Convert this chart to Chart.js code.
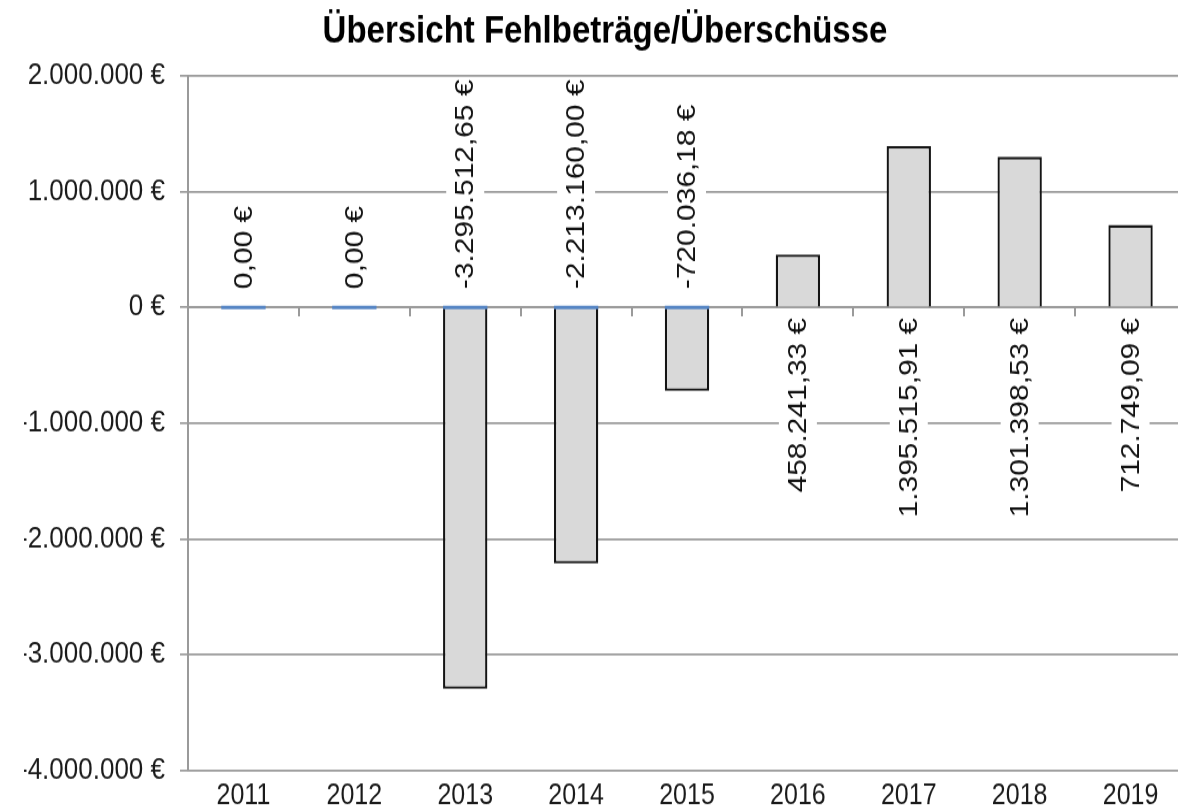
<!DOCTYPE html>
<html><head><meta charset="utf-8">
<script src="https://cdn.jsdelivr.net/npm/chart.js@4.4.1/dist/chart.umd.min.js"></script>
<style>
html,body{margin:0;padding:0;background:#fff;overflow:hidden;width:1178px;height:811px;}
#wrap{position:absolute;left:0;top:0;width:1178px;height:811px;overflow:hidden;background:#fff;}
canvas{display:block;}
</style></head><body>
<div id="wrap"><canvas id="c" width="1186" height="705" style="width:1186px;height:811px"></canvas></div>
<script>
// ---- data ----
const categories = ['2011', '2012', '2013', '2014', '2015', '2016', '2017', '2018', '2019'];
const saldo = [0, 0, -3295512.65, -2213160.00, -720036.18, 458241.33, 1395515.91, 1301398.53, 712749.09];
const baselineMarker = [0, 0, 0, 0, 0, null, null, null, null];
const yMin = -4000000;
const yMax = 2000000;
const yStep = 1000000;
const titleText = 'Übersicht Fehlbeträge/Überschüsse';

// ---- helpers ----
const FONT = '"Liberation Sans", Arial, Helvetica, sans-serif';
function groupThousands(s) { return s.replace(/\B(?=(\d{3})+(?!\d))/g, '.'); }
function fmtEuro(v, dec) {
  const neg = v < 0;
  const parts = Math.abs(v).toFixed(dec).split('.');
  let out = groupThousands(parts[0]);
  if (dec > 0) out += ',' + parts[1];
  return (neg ? '-' : '') + out + ' €';
}

const CANVAS_H = 705;
const PLOT_BOTTOM = 669.6;

const valueLabels = {
  id: 'valueLabels',
  afterDatasetsDraw(chart) {
    const meta = chart.getDatasetMeta(0);
    const ctx = chart.ctx;
    const y0 = chart.scales.y.getPixelForValue(0);
    ctx.save();
    ctx.font = '26px ' + FONT;
    ctx.textBaseline = 'middle';
    meta.data.forEach((bar, i) => {
      const v = saldo[i];
      const text = fmtEuro(v, 2);
      const w = ctx.measureText(text).width;
      ctx.save();
      if (v <= 0) {
        ctx.translate(bar.x, y0 - 16);
        ctx.rotate(-Math.PI / 2);
        ctx.fillStyle = '#fff';
        ctx.fillRect(-2, -19, w + 4, 38);
        ctx.fillStyle = '#111';
        ctx.textAlign = 'left';
        ctx.fillText(text, 0, 1);
      } else {
        ctx.translate(bar.x, y0 + 9);
        ctx.rotate(-Math.PI / 2);
        ctx.fillStyle = '#fff';
        ctx.fillRect(-w - 2, -19, w + 4, 38);
        ctx.fillStyle = '#111';
        ctx.textAlign = 'right';
        ctx.fillText(text, 0, 1);
      }
      ctx.restore();
    });
    ctx.restore();
  }
};

new Chart(document.getElementById('c'), {
  type: 'bar',
  data: {
    labels: categories,
    datasets: [
      {
        label: 'Fehlbeträge/Überschüsse',
        data: saldo,
        backgroundColor: '#d9d9d9',
        borderColor: '#141414',
        borderWidth: 2.3,
        grouped: false,
        order: 1,
        barPercentage: 0.4,
        categoryPercentage: 1
      },
      {
        label: 'Nulllinie',
        data: baselineMarker,
        backgroundColor: '#5585c4',
        borderWidth: 0,
        minBarLength: 3,
        grouped: false,
        order: 0,
        barPercentage: 0.4,
        categoryPercentage: 1
      }
    ]
  },
  options: {
    responsive: false,
    animation: false,
    devicePixelRatio: 1,
    layout: { padding: { left: 24, right: 0, top: 0, bottom: 0 } },
    plugins: {
      legend: { display: false },
      tooltip: { enabled: false },
      title: {
        display: true,
        text: titleText,
        color: '#000',
        font: { family: FONT, size: 33, weight: 'bold', lineHeight: 1.2 },
        padding: { top: 8, bottom: 18.5 }
      }
    },
    scales: {
      x: {
        type: 'category',
        position: 'bottom',
        grid: { display: false, drawTicks: false },
        border: { display: false },
        ticks: { color: '#1a1a1a', font: { family: FONT, size: 25 }, padding: 8, maxRotation: 0, autoSkip: false },
        afterFit(s) { s.height = CANVAS_H - PLOT_BOTTOM; }
      },
      x0: {
        type: 'category',
        position: { y: 0 },
        grid: { drawOnChartArea: false, drawTicks: true, tickLength: 7, color: '#9a9a9a', lineWidth: 2, offset: true },
        border: { display: true, color: '#9a9a9a', width: 2 },
        ticks: { display: false }
      },
      y: {
        min: yMin,
        max: yMax,
        ticks: { stepSize: yStep, color: '#1a1a1a', font: { family: FONT, size: 26 }, padding: 15, callback: (v) => fmtEuro(v, 0) },
        grid: { color: '#9a9a9a', lineWidth: 1.7, tickLength: 8, drawTicks: true },
        border: { color: '#9a9a9a', width: 2 },
        afterFit(s) { s.width = 164; }
      }
    }
  },
  plugins: [valueLabels]
});
</script>
</body></html>
